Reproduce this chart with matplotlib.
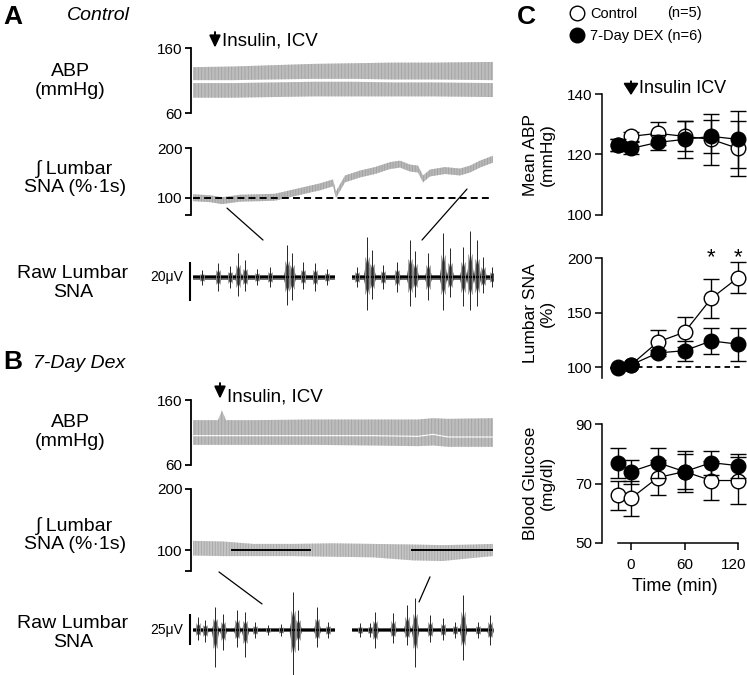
import matplotlib
matplotlib.use('Agg')
import matplotlib.pyplot as plt
import matplotlib.transforms as mtransforms
from matplotlib.patches import ConnectionPatch
from matplotlib.lines import Line2D

plt.rcParams['font.family'] = ['Liberation Sans', 'DejaVu Sans']
plt.rcParams['lines.scale_dashes'] = False
plt.rcParams['hatch.linewidth'] = 0.6

W, H = 747, 675

# ---------------- panel C: group means (time in min) ----------------
time_min = [-15, 0, 30, 60, 90, 120]

abp_ctrl = [123, 126, 127, 126, 125, 122]
abp_ctrl_err = [2, 1.5, 3.7, 5, 8.5, 9]
abp_dex = [123, 122, 124, 125, 126, 125]
abp_dex_err = [2, 2, 2.5, 6, 5.5, 9.3]

sna_ctrl = [100, 102, 123, 132, 163, 182]
sna_ctrl_err = [0, 1, 11, 14, 18, 14.5]
sna_dex = [99, 102, 113, 115, 124, 121]
sna_dex_err = [0, 1, 3, 9, 12, 15]
sna_sig_times = [90, 120]

glu_ctrl = [66, 65, 72, 74, 71, 71]
glu_ctrl_err = [5, 6, 6, 7, 6.5, 8]
glu_dex = [77, 74, 77, 74, 77, 76]
glu_dex_err = [5, 4, 5, 6, 4, 4]

# ---------------- panels A/B: traces (x = position along record, 0-300) ----------------
# ABP envelopes (mmHg): systolic top, notch (upper band bottom), diastolic bottom
abp_a_t = [0, 40, 80, 120, 160, 200, 240, 300]
abp_a_sys = [131, 132, 134, 136, 137, 138, 138, 139]
abp_a_notch = [111, 111, 112, 113, 113, 112, 112, 111]
abp_a_dia = [84, 84, 85, 86, 86, 86, 86, 85]

abp_b_t = [0, 25, 29, 33, 60, 120, 180, 225, 240, 255, 300]
abp_b_sys = [129, 129, 144, 129, 129, 130, 130, 130, 132, 131, 132]
abp_b_notch = [106, 106, 106, 106, 106, 106, 106, 105, 108, 104, 104]
abp_b_dia = [91, 91, 91, 91, 91, 91, 90, 89, 90, 88, 88]

# integrated lumbar SNA (% of baseline), centre of trace
sna_a_t = [0, 17, 29, 47, 67, 82, 97, 112, 127, 140, 143, 152, 167, 182, 197,
           207, 217, 225, 230, 237, 252, 267, 277, 287, 300]
sna_a = [100, 98, 94, 99, 100, 101, 108, 115, 122, 130, 106, 138, 148, 155, 165,
         168, 160, 158, 138, 150, 155, 152, 158, 168, 178]
sna_a_half = 7

sna_b_t = [0, 30, 60, 100, 140, 180, 220, 250, 280, 300]
sna_b = [103, 102, 100, 100, 100, 99, 96, 95, 98, 100]
sna_b_half = [12, 12, 10, 10, 11, 11, 13, 13, 11, 10]
sna_b_marks = [(39, 117), (219, 302)]

# raw lumbar SNA bursts: position, peak up (uV), peak down (uV)
raw_segments = [(0, 142), (159, 300)]
raw_a_pos = [9, 25, 37, 45, 52, 64, 77, 94, 99, 110, 122, 134,
             164, 174, 179, 190, 204, 217, 222, 235, 250, 257, 270, 277, 284, 290, 299]
raw_a_up = [3.6, 7.2, 5.6, 12.3, 8.7, 4.1, 5.1, 16.4, 12.3, 7.7, 7.2, 4.1,
            5.1, 20.5, 13.8, 6.2, 7.7, 19.0, 13.3, 12.3, 22.6, 14.9, 15.4, 23.6, 19.0, 10.3, 5.1]
raw_a_down = [4.1, 7.2, 5.6, 9.7, 7.2, 4.1, 5.1, 14.4, 11.8, 6.2, 7.2, 4.1,
              5.1, 16.9, 11.3, 6.2, 7.7, 14.9, 10.3, 11.8, 16.9, 10.3, 14.9, 16.9, 14.9, 8.2, 5.1]

raw_b_pos = [5, 12, 22, 30, 44, 52, 62, 75, 88, 100, 105, 124, 135,
             167, 177, 182, 200, 214, 222, 237, 250, 262, 270, 285, 297]
raw_b_up = [10.5, 8.1, 18.5, 12.9, 16.1, 14.5, 6.5, 4.0, 4.8, 30.6, 16.1, 18.5, 6.5,
            5.6, 5.6, 14.5, 13.7, 20.2, 25.8, 12.1, 9.7, 6.5, 28.2, 6.5, 12.1]
raw_b_down = [8.1, 9.7, 29.8, 16.1, 13.7, 21.8, 6.5, 4.0, 4.8, 36.3, 16.1, 13.7, 6.5,
              5.6, 5.6, 14.5, 10.5, 12.1, 29.8, 9.7, 8.1, 6.5, 24.2, 6.5, 12.1]


def px_axes(fig, x0, y0, x1, y1):
    return fig.add_axes([x0 / W, 1 - y1 / H, (x1 - x0) / W, (y1 - y0) / H])


def bracket(ax, ticks, labels, lim):
    for s in ['top', 'right', 'bottom']:
        ax.spines[s].set_visible(False)
    ax.spines['left'].set_position(('outward', 1.5))
    ax.spines['left'].set_linewidth(1.3)
    ax.spines['left'].set_bounds(*lim)
    ax.set_yticks(ticks)
    ax.set_yticklabels(labels)
    ax.tick_params(axis='y', length=4, width=1.3, labelsize=11, pad=2)
    ax.set_xticks([])
    ax.set_xlim(0, 300)
    ax.patch.set_visible(False)


def draw_abp(ax, t, sys, notch, dia, gap):
    lower_top = [n - gap for n in notch]
    ax.fill_between(t, notch, sys, facecolor='#bcbcbc', edgecolor='#a4a4a4',
                    hatch='|||||', lw=0)
    ax.fill_between(t, dia, lower_top, facecolor='#bcbcbc', edgecolor='#a4a4a4',
                    hatch='|||||', lw=0)
    bracket(ax, [60, 160], ['60', '160'], (60, 160))
    ax.set_ylim(60, 160)


def draw_raw(ax, pos, up, down, bar, bar_label):
    for a, b in raw_segments:
        ax.fill_between([a, b], [-1.3, -1.3], [1.3, 1.3], color='0.45', lw=0)
        ax.plot([a, b], [0, 0], color='k', lw=1.7, solid_capstyle='butt')
    for p, u, d in zip(pos, up, down):
        ax.fill_between([p - 4, p, p + 4], [0, -d * 0.55, 0], [0, u * 0.55, 0],
                        color='0.3', lw=0)
        ax.vlines([p - 2, p + 2], [-d * 0.5, -d * 0.5], [u * 0.5, u * 0.5],
                  color='0.6', lw=0.6)
        ax.vlines(p, -d, u, color='0.15', lw=0.7)
    ax.plot([-3, -3], bar, color='k', lw=1.5, clip_on=False, solid_capstyle='butt')
    ax.text(-10, 0, bar_label, ha='right', va='center', fontsize=10)
    ax.set_xlim(0, 300)
    ax.axis('off')


def down_arrow(ax, x, y_tip, y_tail, scale, head_w, head_l):
    ax.annotate('', xy=(x, y_tip), xytext=(x, y_tail),
                arrowprops=dict(arrowstyle='-|>,head_width=%g,head_length=%g' % (head_w, head_l),
                                color='k', lw=1.4, mutation_scale=scale,
                                shrinkA=0, shrinkB=0),
                annotation_clip=False)


fig = plt.figure(figsize=(W / 100, H / 100), dpi=100)

# ---------------- panel A ----------------
ax_abp_a = px_axes(fig, 193, 48.3, 493, 113.3)
draw_abp(ax_abp_a, abp_a_t, abp_a_sys, abp_a_notch, abp_a_dia, 4.5)
down_arrow(ax_abp_a, 22, 161, 185, 12, 0.28, 0.6)
ax_abp_a.text(29, 172, 'Insulin, ICV', fontsize=13.5, va='center', ha='left', clip_on=False)

ax_int_a = px_axes(fig, 193, 148.3, 493, 215)
ax_int_a.fill_between(sna_a_t, [v - sna_a_half for v in sna_a], [v + sna_a_half for v in sna_a],
                      facecolor='#b8b8b8', edgecolor='#a0a0a0', hatch='||||||', lw=0)
ax_int_a.plot([0, 300], [100, 100], color='k', lw=1.4, dashes=(5, 3))
bracket(ax_int_a, [65, 100, 200], ['', '100', '200'], (65, 200))
ax_int_a.set_ylim(65, 200)

ax_raw_a = px_axes(fig, 193, 225, 493, 320)
draw_raw(ax_raw_a, raw_a_pos, raw_a_up, raw_a_down, [-12.3, 7.7], '20\u03bcV')
ax_raw_a.set_ylim(-22, 26.7)

# ---------------- panel B ----------------
ax_abp_b = px_axes(fig, 193, 400, 493, 465)
draw_abp(ax_abp_b, abp_b_t, abp_b_sys, abp_b_notch, abp_b_dia, 1.8)
down_arrow(ax_abp_b, 27, 162, 186, 12, 0.28, 0.6)
ax_abp_b.text(34, 164, 'Insulin, ICV', fontsize=13.5, va='center', ha='left', clip_on=False)

ax_int_b = px_axes(fig, 193, 489, 493, 571)
lo = [v - h for v, h in zip(sna_b, sna_b_half)]
hi = [v + h for v, h in zip(sna_b, sna_b_half)]
ax_int_b.fill_between(sna_b_t, lo, hi, facecolor='#c4c4c4', edgecolor='#a6a6a6',
                      hatch='||||||', lw=0)
for a, b in sna_b_marks:
    ax_int_b.plot([a, b], [100, 100], color='k', lw=1.4)
bracket(ax_int_b, [65.6, 100, 200], ['', '100', '200'], (65.6, 200))
ax_int_b.set_ylim(65.6, 200)

ax_raw_b = px_axes(fig, 193, 580, 493, 675)
draw_raw(ax_raw_b, raw_b_pos, raw_b_up, raw_b_down, [-12.1, 12.9], '25\u03bcV')
ax_raw_b.set_ylim(-36.3, 40.3)

# zoom connectors from integrated to raw traces
for axi, axr, pa, pb in [(ax_int_a, ax_raw_a, (34, 79), (70, 19)),
                         (ax_int_a, ax_raw_a, (274, 117.5), (229, 19)),
                         (ax_int_b, ax_raw_b, (26, 64), (69, 21)),
                         (ax_int_b, ax_raw_b, (237, 56), (226, 22.6))]:
    con = ConnectionPatch(xyA=pa, coordsA=axi.transData, xyB=pb, coordsB=axr.transData,
                          color='k', lw=0.9)
    fig.add_artist(con)


def ftext(x, y, s, **kw):
    fig.text(x / W, 1 - y / H, s, **kw)


ftext(3, 17, 'A', fontsize=19, fontweight='bold', va='center', ha='left')
ftext(67, 16, 'Control', fontsize=14, style='italic', va='center', ha='left')
ftext(3, 362, 'B', fontsize=19, fontweight='bold', va='center', ha='left')
ftext(33, 363, '7-Day Dex', fontsize=14, style='italic', va='center', ha='left')
for y in (81, 432):
    ftext(70, y, 'ABP\n(mmHg)', fontsize=14, ha='center', va='center', multialignment='center',
          linespacing=1.15)
for y in (178, 535):
    ftext(75, y, '\u222b Lumbar\nSNA (%\u00b71s)', fontsize=14, ha='center', va='center',
          multialignment='center', linespacing=1.15)
for y in (283, 633):
    ftext(73, y, 'Raw Lumbar\nSNA', fontsize=14, ha='center', va='center',
          multialignment='center', linespacing=1.15)

# ---------------- panel C ----------------
def c_axes(y0, y1, lim, ticks):
    ax = px_axes(fig, 602, y0, 747, y1)
    ax.set_xlim(-32.5, 130)
    ax.set_ylim(*lim)
    for s in ['top', 'right']:
        ax.spines[s].set_visible(False)
    ax.spines['left'].set_linewidth(1.1)
    ax.spines['left'].set_bounds(*lim)
    ax.set_yticks(ticks)
    ax.tick_params(axis='y', length=5, width=1.1, labelsize=11, pad=2)
    ax.patch.set_visible(False)
    return ax


def group_plot(ax, ctrl, ctrl_err, dex, dex_err):
    ax.errorbar(time_min, ctrl, yerr=ctrl_err, color='k', lw=0.9, elinewidth=1,
                capsize=5.5, capthick=1, marker='o', ms=10.5, mfc='white', mec='k',
                mew=1, zorder=3, clip_on=False)
    ax.errorbar(time_min, dex, yerr=dex_err, color='k', lw=0.9, elinewidth=1,
                capsize=5.5, capthick=1, marker='o', ms=10.5, mfc='k', mec='k',
                mew=1, zorder=4, clip_on=False)


ax_c1 = c_axes(94, 215, (100, 140), [100, 120, 140])
group_plot(ax_c1, abp_ctrl, abp_ctrl_err, abp_dex, abp_dex_err)
ax_c1.spines['bottom'].set_visible(False)
ax_c1.set_xticks([])
down_arrow(ax_c1, 0, 139.6, 144.2, 14, 0.32, 0.5)
ax_c1.text(9, 141.7, 'Insulin ICV', fontsize=13, va='center', ha='left', clip_on=False)

ax_c2 = c_axes(258, 378, (90, 200), [100, 150, 200])
ax_c2.plot([7, 122], [100, 100], color='k', lw=1.3, dashes=(4, 3), zorder=1)
group_plot(ax_c2, sna_ctrl, sna_ctrl_err, sna_dex, sna_dex_err)
ax_c2.spines['bottom'].set_visible(False)
ax_c2.set_xticks([])
for t in sna_sig_times:
    ax_c2.text(t, 200, '*', fontsize=16, ha='center', va='center', clip_on=False)

ax_c3 = c_axes(424, 543, (50, 90), [50, 70, 90])
group_plot(ax_c3, glu_ctrl, glu_ctrl_err, glu_dex, glu_dex_err)
ax_c3.spines['bottom'].set_bounds(-15, 120)
ax_c3.spines['bottom'].set_linewidth(1.1)
ax_c3.set_xticks([0, 60, 120])
ax_c3.tick_params(axis='x', length=5, width=1.1, labelsize=11, pad=6)
ax_c3.set_xlabel('Time (min)', fontsize=13, labelpad=4)
last = ax_c3.get_xticklabels()[-1]
last.set_transform(last.get_transform() +
                   mtransforms.ScaledTranslation(-4 / 100, 0, fig.dpi_scale_trans))

ftext(539, 155, 'Mean ABP\n(mmHg)', fontsize=12.5, rotation=90, ha='center', va='center',
      multialignment='center', linespacing=1.1)
ftext(539, 313, 'Lumbar SNA\n(%)', fontsize=12.5, rotation=90, ha='center', va='center',
      multialignment='center', linespacing=1.1)
ftext(539, 483, 'Blood Glucose\n(mg/dl)', fontsize=12.5, rotation=90, ha='center', va='center',
      multialignment='center', linespacing=1.1)
ftext(517, 17, 'C', fontsize=19, fontweight='bold', va='center', ha='left')

handles = [Line2D([], [], ls='none', marker='o', ms=10.5, mfc='white', mec='k', mew=1),
           Line2D([], [], ls='none', marker='o', ms=10.5, mfc='k', mec='k', mew=1)]
fig.legend(handles, ['Control', '7-Day DEX (n=6)'], loc='upper left',
           bbox_to_anchor=(570 / W, 1 - 7 / H), frameon=False, fontsize=10.5,
           handlelength=1.0, handletextpad=0.4, labelspacing=0.55, borderpad=0,
           borderaxespad=0)
ftext(667, 13, '(n=5)', fontsize=10.5, va='center', ha='left')

fig.savefig('out.png', dpi=100)
